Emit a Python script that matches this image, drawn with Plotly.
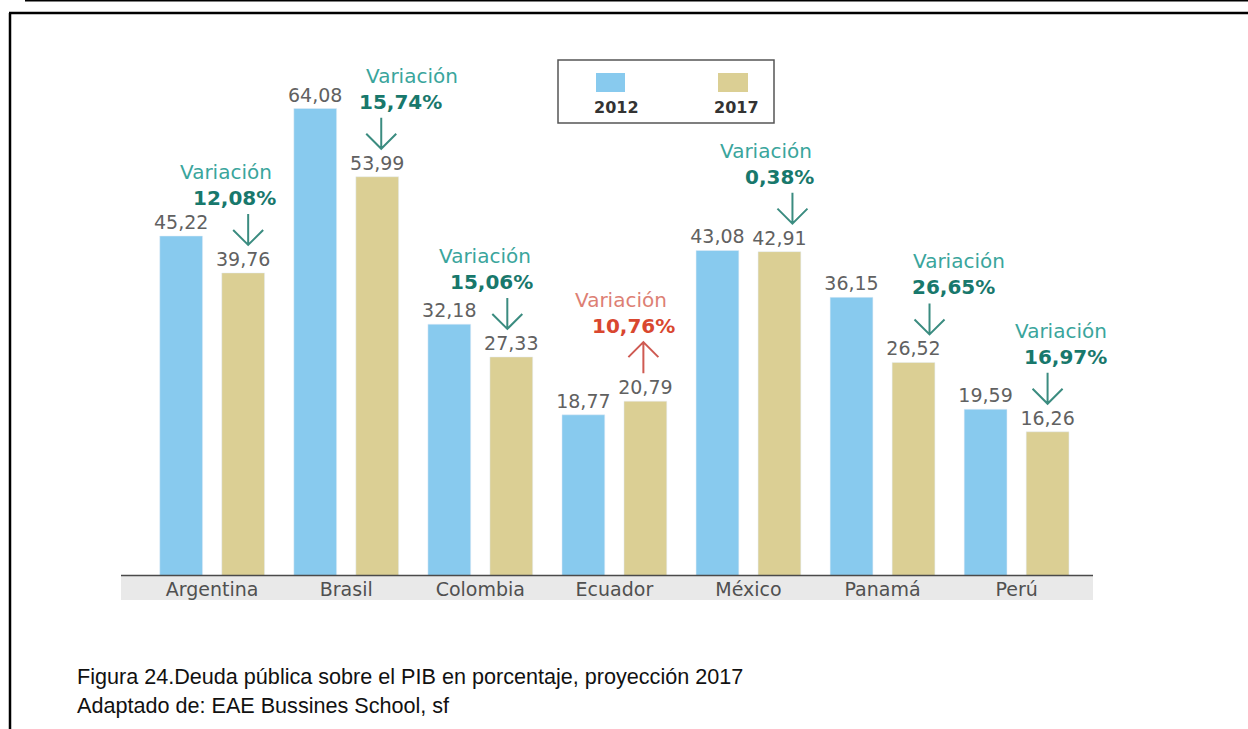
import plotly.graph_objects as go

# datos
paises = ["Argentina", "Brasil", "Colombia", "Ecuador", "México", "Panamá", "Perú"]
deuda_2012 = [45.22, 64.08, 32.18, 18.77, 43.08, 36.15, 19.59]
deuda_2017 = [39.76, 53.99, 27.33, 20.79, 42.91, 26.52, 16.26]
variacion = ["12,08%", "15,74%", "15,06%", "10,76%", "0,38%", "26,65%", "16,97%"]
sube = [False, False, False, True, False, False, False]

W, H = 1248, 729
# zona del grafico en pixeles
X0, X1 = 121, 1093
Y_TOP, Y_BASE = 60, 575.5
X_RANGE = [-0.68, 6.57]
BASE = -5
Y_MAX = BASE + (Y_BASE - Y_TOP) / 6.76

px_per_x = (X1 - X0) / (X_RANGE[1] - X_RANGE[0])
px_per_y = (Y_BASE - Y_TOP) / (Y_MAX - BASE)


def fx(px):
    return px / W


def fy(py):
    return 1 - py / H


def fmt(v):
    return f"{v:.2f}".replace(".", ",")


AZUL = "#88caee"
ARENA = "#dbcf94"
FUENTE = "DejaVu Sans"

idx = list(range(len(paises)))

fig = go.Figure()
fig.add_trace(go.Bar(
    x=idx, y=[v - BASE for v in deuda_2012], base=BASE, name="2012",
    marker_color=AZUL, text=[fmt(v) for v in deuda_2012],
    textposition="outside", constraintext="none",
    textfont=dict(family=FUENTE, size=19, color="#616161"),
    cliponaxis=False,
))
fig.add_trace(go.Bar(
    x=idx, y=[v - BASE for v in deuda_2017], base=BASE, name="2017",
    marker_color=ARENA, text=[fmt(v) for v in deuda_2017],
    textposition="outside", constraintext="none",
    textfont=dict(family=FUENTE, size=19, color="#616161"),
    cliponaxis=False,
))

shapes = []
annotations = []

# desplazamientos (px) de los textos de variacion respecto a la barra 2017
dx_var = [-17, 35, -26, -24, -13, 45, 13]
dx_pct = [-9, 23, -20, -12, 0, 40, 18]
dx_flecha = [5, 4, -4, -2, 13, 16, 0]

off = (1 - 0.075) / 4
for i, v in enumerate(deuda_2017):
    xt = i + off
    if sube[i]:
        c1, c2, c3 = "#dd7f74", "#d9472f", "#cf5a52"
    else:
        c1, c2, c3 = "#3aa59c", "#18786c", "#3b8c80"
    annotations.append(dict(x=xt, y=v, xref="x", yref="y", text="Variación",
                            showarrow=False, xshift=dx_var[i], yshift=101,
                            font=dict(family=FUENTE, size=20, color=c1)))
    annotations.append(dict(x=xt, y=v, xref="x", yref="y", text="<b>" + variacion[i] + "</b>",
                            showarrow=False, xshift=dx_pct[i], yshift=75,
                            font=dict(family=FUENTE, size=20, color=c2)))
    ax = xt + dx_flecha[i] / px_per_x
    y_lo = v + 28 / px_per_y
    y_hi = v + 59 / px_per_y
    hw = 15 / px_per_x
    hh = 15 / px_per_y
    if sube[i]:
        path = (f"M {ax},{y_lo} L {ax},{y_hi} M {ax - hw},{y_hi - hh} "
                f"L {ax},{y_hi} L {ax + hw},{y_hi - hh}")
    else:
        path = (f"M {ax},{y_hi} L {ax},{y_lo} M {ax - hw},{y_lo + hh} "
                f"L {ax},{y_lo} L {ax + hw},{y_lo + hh}")
    shapes.append(dict(type="path", path=path, xref="x", yref="y",
                       line=dict(color=c3, width=2)))

# banda gris y linea base
shapes.append(dict(type="rect", xref="paper", yref="paper",
                   x0=fx(X0), x1=fx(X1), y0=fy(600), y1=fy(Y_BASE),
                   fillcolor="#e9e9e9", line=dict(width=0), layer="below"))
shapes.append(dict(type="line", xref="paper", yref="paper",
                   x0=fx(X0), x1=fx(X1), y0=fy(Y_BASE), y1=fy(Y_BASE),
                   line=dict(color="#4a4a4a", width=1.5)))

# leyenda dibujada
shapes.append(dict(type="rect", xref="paper", yref="paper",
                   x0=fx(558), x1=fx(774), y0=fy(123), y1=fy(60),
                   line=dict(color="#555555", width=1.5), fillcolor="white"))
shapes.append(dict(type="rect", xref="paper", yref="paper",
                   x0=fx(596), x1=fx(625), y0=fy(92), y1=fy(73),
                   fillcolor=AZUL, line=dict(width=0)))
shapes.append(dict(type="rect", xref="paper", yref="paper",
                   x0=fx(718), x1=fx(748), y0=fy(92), y1=fy(73),
                   fillcolor=ARENA, line=dict(width=0)))
annotations.append(dict(x=fx(616), y=fy(107), xref="paper", yref="paper", text="<b>2012</b>",
                        xanchor="center", yanchor="middle", showarrow=False,
                        font=dict(family=FUENTE, size=16, color="#333333")))
annotations.append(dict(x=fx(736), y=fy(107), xref="paper", yref="paper", text="<b>2017</b>",
                        xanchor="center", yanchor="middle", showarrow=False,
                        font=dict(family=FUENTE, size=16, color="#333333")))

# marco
shapes.append(dict(type="line", xref="paper", yref="paper",
                   x0=fx(25), x1=1, y0=fy(0.8), y1=fy(0.8), line=dict(color="black", width=1.5)))
shapes.append(dict(type="line", xref="paper", yref="paper",
                   x0=fx(9), x1=1, y0=fy(13), y1=fy(13), line=dict(color="black", width=2.5)))
shapes.append(dict(type="line", xref="paper", yref="paper",
                   x0=fx(10), x1=fx(10), y0=fy(13), y1=0, line=dict(color="black", width=2.5)))

# pie de figura
annotations.append(dict(x=fx(75), y=fy(676), xref="paper", yref="paper",
                        xanchor="left", yanchor="middle",
                        text="Figura 24.Deuda pública sobre el PIB en porcentaje, proyección 2017",
                        showarrow=False, font=dict(family="Liberation Sans", size=21.6, color="#111111")))
annotations.append(dict(x=fx(75), y=fy(705), xref="paper", yref="paper",
                        xanchor="left", yanchor="middle",
                        text="Adaptado de: EAE Bussines School, sf",
                        showarrow=False, font=dict(family="Liberation Sans", size=21.6, color="#111111")))

fig.update_layout(
    width=W, height=H,
    margin=dict(l=0, r=0, t=0, b=0),
    paper_bgcolor="white", plot_bgcolor="white",
    barmode="group", bargap=0.075, bargroupgap=0.31,
    showlegend=False,
    shapes=shapes, annotations=annotations,
    xaxis=dict(domain=[fx(X0), fx(X1)], range=X_RANGE, tickvals=idx, ticktext=paises,
               showgrid=False, zeroline=False, showline=False, ticks="",
               tickfont=dict(family=FUENTE, size=19, color="#505050")),
    yaxis=dict(domain=[fy(Y_BASE), fy(Y_TOP)], range=[BASE, Y_MAX], visible=False),
)

# sin margen del body para que la figura ocupe la ventana entera
fig.write_html("out.html", config={"displayModeBar": False},
               post_script="document.body.style.margin='0';")
